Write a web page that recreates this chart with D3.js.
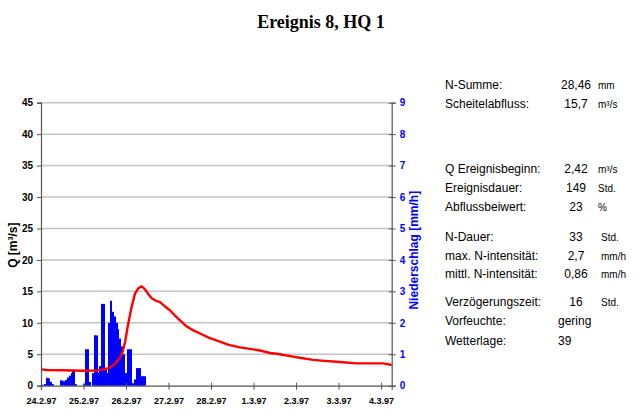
<!DOCTYPE html>
<html>
<head>
<meta charset="utf-8">
<script src="https://cdn.jsdelivr.net/npm/d3@7"></script>
<style>
  html, body { margin: 0; padding: 0; background: #fff; }
  svg { display: block; }
</style>
</head>
<body>
<svg id="chart" width="643" height="419"></svg>
<script>
// ---------------- data ----------------
const title = "Ereignis 8, HQ 1";
const eventStart = new Date(1997, 1, 24, 0);   // 24.2.97 00:00
const eventEnd = new Date(1997, 2, 4, 6);      // 4.3.97 06:00

// hourly precipitation [mm/h], starting 24.2.97 00:00
const rainHourly = [
  0, 0.03, 0.05, 0.25, 0.22, 0.12, 0.05, 0, 0, 0,
  0, 0.17, 0.14, 0.1, 0.18, 0.26, 0.32, 0.4, 0.47, 0.05,
  0, 0, 0, 0, 0.05, 1.16, 1.16, 0.12, 0, 0.4,
  1.6, 1.6, 0.42, 0.62, 2.6, 2.6, 0.5, 0.4, 2.0, 2.7,
  2.35, 2.2, 2.0, 1.8, 1.5, 1.25, 1.0, 0.4, 0, 1.16,
  1.16, 0.08, 0, 0.2, 0.56, 0.56, 0.15, 0.3, 0.3
];

// discharge Q [m³/s], hours after event start
const qHours  = [0, 3, 12, 24, 31, 35, 38, 41, 43, 44.6, 46, 47.5, 49, 51, 53, 55, 56.8, 58.5, 60.5, 62.5,
                 65, 67.2, 70, 72.8, 75.5, 78.5, 82.3, 86, 89.8, 95, 101, 106, 112.3, 118, 123.6, 129.3,
                 134.9, 140.6, 147, 153.6, 160, 167, 172, 178.3, 185, 193.3, 198];
const qValues = [2.6, 2.5, 2.45, 2.38, 2.4, 2.55, 2.8, 3.3, 3.9, 4.5, 5.3, 7.0, 9.5, 12.3, 14.6, 15.5, 15.8, 15.4, 14.6, 13.9,
                 13.5, 13.3, 12.6, 12.0, 11.2, 10.4, 9.4, 8.8, 8.3, 7.6, 7.0, 6.5, 6.1, 5.85, 5.6, 5.2,
                 5.0, 4.7, 4.4, 4.1, 3.95, 3.8, 3.7, 3.55, 3.55, 3.55, 3.3];

const qTicks = [0, 5, 10, 15, 20, 25, 30, 35, 40, 45];
const nTicks = [0, 1, 2, 3, 4, 5, 6, 7, 8, 9];

const statsLabels = ["N-Summe:", "Scheitelabfluss:", "Q Ereignisbeginn:", "Ereignisdauer:", "Abflussbeiwert:",
                     "N-Dauer:", "max. N-intensität:", "mittl. N-intensität:", "Verzögerungszeit:", "Vorfeuchte:", "Wetterlage:"];
const statsValues = ["28,46", "15,7", "2,42", "149", "23", "33", "2,7", "0,86", "16", "gering", "39"];
const statsUnits  = ["mm", "m³/s", "m³/s", "Std.", "%", "Std.", "mm/h", "mm/h", "Std.", "", ""];

// ---------------- layout ----------------
const svg = d3.select("#chart");
const L = 41, R = 391.7, T = 102.7, B = 385.7;
const font = "Liberation Sans, Arial, sans-serif";

const x = d3.scaleTime().domain([eventStart, eventEnd]).range([L, R]);
const yQ = d3.scaleLinear().domain([0, 45]).range([B, T]);
const yN = d3.scaleLinear().domain([0, 9]).range([B, T]);
const hourToDate = h => new Date(eventStart.getTime() + h * 3600 * 1000);

// title
svg.append("text")
  .attr("x", 321).attr("y", 28)
  .attr("text-anchor", "middle")
  .style("font-family", "Liberation Serif, Times New Roman, serif")
  .style("font-weight", "bold").style("font-size", "18px")
  .text(title);

// gridlines
svg.append("g").selectAll("line")
  .data(qTicks.filter(d => d > 0))
  .join("line")
  .attr("x1", L).attr("x2", R)
  .attr("y1", d => yQ(d)).attr("y2", d => yQ(d))
  .attr("stroke", "#c4c4c4").attr("stroke-width", 1.5);

// precipitation bars (edges snapped to whole pixels so neighbours touch)
svg.append("g").selectAll("rect")
  .data(rainHourly.map((v, i) => ({ h: i, v })).filter(d => d.v > 0))
  .join("rect")
  .attr("x", d => Math.floor(x(hourToDate(d.h))))
  .attr("width", d => Math.ceil(x(hourToDate(d.h + 1))) - Math.floor(x(hourToDate(d.h))))
  .attr("y", d => yN(d.v))
  .attr("height", d => B - yN(d.v))
  .attr("fill", "#0000ff");

// discharge line
const line = d3.line()
  .x((d, i) => x(hourToDate(qHours[i])))
  .y(d => yQ(d));
svg.append("path")
  .datum(qValues)
  .attr("d", line)
  .attr("fill", "none")
  .attr("stroke", "#ff0000")
  .attr("stroke-width", 2.4)
  .attr("stroke-linejoin", "round");

// left axis
const axL = svg.append("g").attr("transform", `translate(${L},0)`)
  .call(d3.axisLeft(yQ).tickValues(qTicks).tickSize(4).tickPadding(4));
axL.select(".domain").attr("stroke", "#555").attr("stroke-width", 1.2);
axL.selectAll(".tick line").attr("stroke", "#555");
axL.selectAll("text").style("font-family", font).style("font-weight", "bold")
  .style("font-size", "10px").attr("fill", "#000");

// right axis
const axR = svg.append("g").attr("transform", `translate(${R},0)`)
  .call(d3.axisRight(yN).tickValues(nTicks).tickSize(4).tickPadding(4));
axR.select(".domain").attr("stroke", "#555").attr("stroke-width", 1.2);
axR.selectAll(".tick line").attr("stroke", "#555").attr("x1", -3);
axR.selectAll("text").style("font-family", font).style("font-weight", "bold")
  .style("font-size", "10px").attr("fill", "#0000ff");

// bottom axis
const axB = svg.append("g").attr("transform", `translate(0,${B})`)
  .call(d3.axisBottom(x).ticks(d3.timeDay.every(1)).tickFormat(d3.timeFormat("%-d.%-m.%y"))
    .tickSize(4).tickPadding(8));
axB.select(".domain").attr("stroke", "#555").attr("stroke-width", 1.2);
axB.selectAll(".tick line").attr("stroke", "#555").attr("y1", -3);
axB.selectAll("text").style("font-family", font).style("font-weight", "bold")
  .style("font-size", "9px").attr("fill", "#000");

// axis titles
svg.append("text")
  .attr("transform", `translate(17,${(T + B) / 2 + 1}) rotate(-90)`)
  .attr("text-anchor", "middle")
  .style("font-family", font).style("font-weight", "bold").style("font-size", "12px")
  .text("Q [m³/s]");
svg.append("text")
  .attr("transform", `translate(418,${(T + B) / 2 + 6}) rotate(-90)`)
  .attr("text-anchor", "middle")
  .style("font-family", font).style("font-weight", "bold").style("font-size", "12px")
  .attr("fill", "#0000ff")
  .text("Niederschlag [mm/h]");

// stats table
const rowY = [89, 108, 173, 192, 211, 241, 260, 278, 306, 325, 345];
const tbl = svg.append("g").style("font-family", font).style("font-size", "12px");
statsLabels.forEach((lab, i) => {
  tbl.append("text").attr("x", 445).attr("y", rowY[i]).text(lab);
  const isText = i >= 9;
  tbl.append("text")
    .attr("x", isText ? 558 : 576).attr("y", rowY[i])
    .attr("text-anchor", isText ? "start" : "middle")
    .text(statsValues[i]);
  if (statsUnits[i]) {
    tbl.append("text").attr("x", i >= 5 ? 601 : 598).attr("y", rowY[i])
      .style("font-size", "10px").text(statsUnits[i]);
  }
});
</script>
</body>
</html>
